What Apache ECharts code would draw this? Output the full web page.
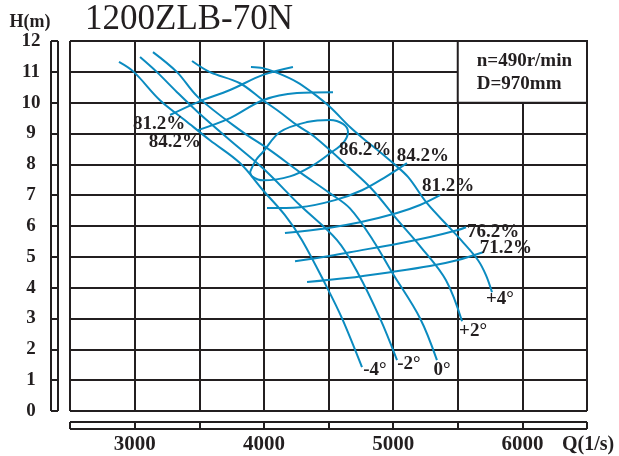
<!DOCTYPE html>
<html>
<head>
<meta charset="utf-8">
<script src="https://cdn.jsdelivr.net/npm/echarts@6/dist/echarts.min.js"></script>
<style>
  html, body { margin: 0; padding: 0; background: #ffffff; }
  #chart { width: 619px; height: 456px; }
</style>
</head>
<body>
<div id="chart"></div>
<script>
// ---- axis ticks ----
const qLabelTicks = [3000, 4000, 5000, 6000];          // Q (l/s) values that carry a label
const hLabelTicks = [0, 1, 2, 3, 4, 5, 6, 7, 8, 9, 10, 11, 12];

// ---- head curves for each blade angle (Q in l/s, H in m) ----
const angleNames = ['-4°', '-2°', '0°', '+2°', '+4°'];

const qAngleM4 = [2879, 2995, 3196, 3390, 3583, 3815, 3993, 4163, 4295, 4488, 4604, 4759];
const hAngleM4 = [11.32, 10.99, 10.08, 9.43, 8.78, 8.04, 7.16, 6.35, 5.54, 4.01, 3.01, 1.42];

const qAngleM2 = [3042, 3173, 3328, 3490, 3738, 3993, 4280, 4566, 4728, 4898, 5030];
const hAngleM2 = [11.48, 10.99, 10.34, 9.69, 8.78, 7.87, 6.67, 5.54, 4.47, 3.01, 1.65];

const qAngle0 = [3142, 3328, 3490, 3815, 4047, 4280, 4512, 4666, 4844, 4991, 5208, 5339];
const hAngle0 = [11.64, 10.99, 10.18, 9.11, 8.46, 7.74, 7.06, 6.57, 5.54, 4.50, 3.01, 1.65];

const qAngleP2 = [3444, 3583, 3815, 3993, 4125, 4256, 4396, 4666, 4844, 5015, 5216, 5409, 5533];
const hAngleP2 = [11.35, 10.99, 10.63, 10.08, 9.69, 9.27, 8.88, 7.87, 7.16, 6.29, 5.31, 4.24, 2.91];

const qAngleP4 = [3900, 3993, 4109, 4256, 4380, 4512, 4666, 4782, 4898, 4999, 5115, 5262, 5440, 5541, 5657, 5719, 5765];
const hAngleP4 = [11.16, 11.12, 10.96, 10.67, 10.31, 9.86, 9.21, 8.79, 8.40, 8.04, 7.59, 6.74, 5.93, 5.47, 4.89, 4.40, 3.85];

// ---- efficiency contours ----
const effNames = ['81.2%', '84.2%', '86.2%', '84.2%', '81.2%', '76.2%', '71.2%'];

// left-hand branches, listed from their labelled (left) end
const qEff81Upper = [3274, 3490, 3738, 3993, 4225];
const hEff81Upper = [9.60, 10.02, 10.41, 10.90, 11.16];
const qEff84Upper = [3490, 3738, 3993, 4256, 4535];
const hEff84Upper = [9.11, 9.50, 10.08, 10.31, 10.34];

// closed 86.2% island
const qEff86 = [3893, 3939, 3993, 4125, 4334, 4512, 4612, 4651, 4612, 4512, 4380, 4202, 3993, 3908, 3893];
const hEff86 = [7.75, 8.14, 8.40, 9.05, 9.37, 9.44, 9.31, 9.05, 8.69, 8.36, 7.97, 7.61, 7.48, 7.61, 7.75];

// right-hand branches, labelled at their right end
const qEff84Lower = [4024, 4280, 4550, 4759, 4937, 5107];
const hEff84Lower = [6.58, 6.61, 6.84, 7.16, 7.58, 8.04];
const qEff81Lower = [4163, 4488, 4744, 5030, 5208, 5363];
const hEff81Lower = [5.77, 5.93, 6.12, 6.42, 6.68, 7.00];
const qEff76Lower = [4241, 4496, 4666, 5054, 5285, 5494, 5564];
const hEff76Lower = [4.86, 5.02, 5.15, 5.44, 5.64, 5.86, 5.96];
const qEff71Lower = [4334, 4643, 4976, 5285, 5494, 5695];
const hEff71Lower = [4.18, 4.31, 4.50, 4.70, 4.89, 5.15];

// ---- styling ----
const INK = '#231f20';
const CURVE = '#0b8bc0';
const SERIF = '"Liberation Serif", "Times New Roman", serif';

const zip = (qs, hs) => qs.map((q, i) => [q, hs[i]]);

const angleCurves = [
  zip(qAngleM4, hAngleM4), zip(qAngleM2, hAngleM2), zip(qAngle0, hAngle0),
  zip(qAngleP2, hAngleP2), zip(qAngleP4, hAngleP4)
];
const effCurves = [
  zip(qEff81Upper, hEff81Upper), zip(qEff84Upper, hEff84Upper), zip(qEff86, hEff86),
  zip(qEff84Lower, hEff84Lower), zip(qEff81Lower, hEff81Lower),
  zip(qEff76Lower, hEff76Lower), zip(qEff71Lower, hEff71Lower)
];

// where each label sits relative to its curve: which end, and a pixel nudge
const angleLabelPlace = [
  { end: 'last', dx: 13, dy: 3 }, { end: 'last', dx: 12, dy: 4 }, { end: 'last', dx: 5, dy: 10 },
  { end: 'last', dx: 11, dy: 10 }, { end: 'last', dx: 8, dy: 7 }
];
const effLabelPlace = [
  { end: 'first', dx: -11, dy: 9 }, { end: 'first', dx: -23, dy: 12 }, { end: 'right', dx: 17, dy: 18 },
  { end: 'last', dx: 16, dy: -7 }, { end: 'last', dx: 8, dy: -9 },
  { end: 'last', dx: 27, dy: 5 }, { end: 'last', dx: 23, dy: -4 }
];

const gridLine = { show: true, lineStyle: { color: INK, width: 2 } };
const hidden = { show: false };

function curveSeries(data) {
  return {
    type: 'line', xAxisIndex: 0, yAxisIndex: 0, data: data,
    smooth: 0.35, showSymbol: false, silent: true, animation: false,
    lineStyle: { color: CURVE, width: 2 }
  };
}

const series = [];
// white panel holding the speed / diameter note, drawn over the grid
series.push({
  type: 'line', xAxisIndex: 0, yAxisIndex: 0, data: [], silent: true, animation: false,
  markArea: {
    silent: true,
    itemStyle: { color: '#ffffff', borderColor: INK, borderWidth: 2 },
    data: [[{ coord: [5500, 12] }, { coord: [6500, 10] }]]
  }
});
angleCurves.forEach(d => series.push(curveSeries(d)));
effCurves.forEach(d => series.push(curveSeries(d)));

const option = {
  animation: false,
  backgroundColor: '#ffffff',
  grid: [
    { left: 70, right: 32, top: 41, bottom: 45 },
    { left: 51, width: 7, top: 41, bottom: 45 },
    { left: 70, right: 32, top: 422, height: 7 }
  ],
  xAxis: [
    {
      gridIndex: 0, type: 'value', min: 2500, max: 6500, interval: 500,
      axisLine: hidden, axisTick: hidden, splitLine: gridLine,
      axisLabel: {
        margin: 23, color: INK, fontFamily: SERIF, fontWeight: 'bold', fontSize: 21,
        formatter: v => (qLabelTicks.includes(v) ? String(v) : '')
      }
    },
    { gridIndex: 1, type: 'value', min: 0, max: 1, interval: 1, axisLine: hidden, axisTick: hidden, axisLabel: hidden, splitLine: gridLine },
    { gridIndex: 2, type: 'value', min: 2500, max: 6500, interval: 500, axisLine: hidden, axisTick: hidden, axisLabel: hidden, splitLine: gridLine }
  ],
  yAxis: [
    {
      gridIndex: 0, type: 'value', min: 0, max: 12, interval: 1,
      axisLine: hidden, axisTick: hidden, splitLine: gridLine,
      axisLabel: {
        margin: 39, align: 'center', color: INK, fontFamily: SERIF, fontWeight: 'bold', fontSize: 19,
        formatter: v => (hLabelTicks.includes(v) ? String(v) : '')
      }
    },
    { gridIndex: 1, type: 'value', min: 0, max: 12, interval: 1, axisLine: hidden, axisTick: hidden, axisLabel: hidden, splitLine: gridLine },
    { gridIndex: 2, type: 'value', min: 0, max: 1, interval: 1, axisLine: hidden, axisTick: hidden, axisLabel: hidden, splitLine: gridLine }
  ],
  series: series
};

const chart = echarts.init(document.getElementById('chart'), null, { renderer: 'canvas' });
chart.setOption(option);

// ---- text annotations ----
const toPx = p => chart.convertToPixel({ xAxisIndex: 0, yAxisIndex: 0 }, p);

function anchorOf(data, end) {
  if (end === 'first') return data[0];
  if (end === 'last') return data[data.length - 1];
  // rightmost point of a closed contour
  return data.reduce((a, b) => (b[0] > a[0] ? b : a));
}

function noteText(x, y, text, size, weight, align) {
  return {
    type: 'text', x: x, y: y, silent: true, z: 10,
    style: {
      text: text, fill: INK, font: weight + ' ' + size + 'px ' + SERIF,
      textAlign: align || 'center', textVerticalAlign: 'middle'
    }
  };
}

const graphics = [];
angleCurves.forEach((d, i) => {
  const p = toPx(anchorOf(d, angleLabelPlace[i].end));
  graphics.push(noteText(p[0] + angleLabelPlace[i].dx, p[1] + angleLabelPlace[i].dy, angleNames[i], 19, 'bold'));
});
effCurves.forEach((d, i) => {
  const p = toPx(anchorOf(d, effLabelPlace[i].end));
  graphics.push(noteText(p[0] + effLabelPlace[i].dx, p[1] + effLabelPlace[i].dy, effNames[i], 19, 'bold'));
});

// speed and impeller diameter inside the note panel
const corner = toPx([5500, 12]);
graphics.push(noteText(corner[0] + 19, corner[1] + 20, 'n=490r/min', 19, 'bold', 'left'));
graphics.push(noteText(corner[0] + 19, corner[1] + 43, 'D=970mm', 19, 'bold', 'left'));

// title and axis names
graphics.push(noteText(85, 20, '1200ZLB-70N', 35, 'normal', 'left'));
graphics.push(noteText(30, 22, 'H(m)', 18, 'bold'));
graphics.push(noteText(562, 445, 'Q(1/s)', 20, 'bold', 'left'));

chart.setOption({ graphic: graphics });
</script>
</body>
</html>
